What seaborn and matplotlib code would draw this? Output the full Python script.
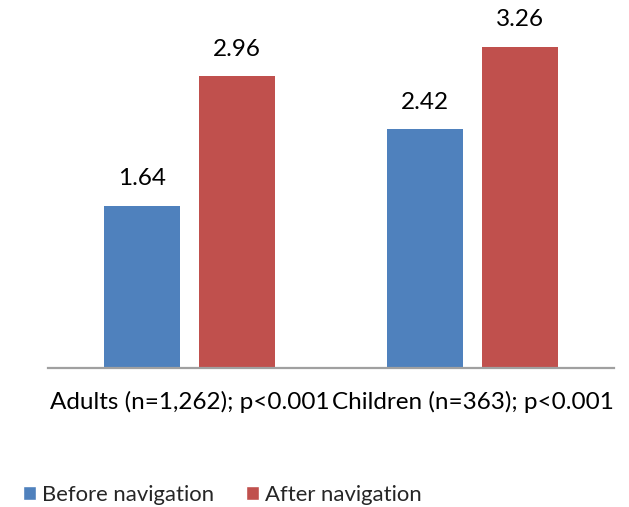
import matplotlib
matplotlib.use("Agg")
import matplotlib.pyplot as plt
import seaborn as sns
import pandas as pd
from matplotlib.patches import Patch

categories = ["Adults (n=1,262); p<0.001", "Children (n=363); p<0.001"]
series = ["Before navigation", "After navigation"]
before = [1.64, 2.42]
after = [2.96, 3.26]
colors = ["#4F81BD", "#C0504D"]

rows = []
for c, b, a in zip(categories, before, after):
    rows.append({"cat": c, "series": series[0], "val": b})
    rows.append({"cat": c, "series": series[1], "val": a})
df = pd.DataFrame(rows)

sns.set_theme(style="white")
plt.rcParams['font.family'] = ['Lato', 'DejaVu Sans']

W, H = 629, 507
fig = plt.figure(figsize=(W / 100, H / 100), dpi=100)
# axes: left 48px, right 614px, baseline at 367.5px, 98.4 px/unit
ymax = 3.6
ax_h = ymax * 98.4
ax = fig.add_axes([48 / W, (H - 367.5) / H, 566 / W, ax_h / H])

sns.barplot(data=df, x="cat", y="val", hue="series", palette=colors,
            width=0.670, gap=0.205, saturation=1, ax=ax, legend=False,
            edgecolor="none")

ax.set_ylim(0, ymax)
ax.set_xlim(-0.5, 1.5)

for cont in ax.containers:
    ax.bar_label(cont, labels=[f"{v:.2f}" for v in cont.datavalues],
                 padding=12, fontsize=17.5, color="black")

for s in ["top", "right", "left"]:
    ax.spines[s].set_visible(False)
ax.spines["bottom"].set_color("#a0a0a0")
ax.spines["bottom"].set_linewidth(1.6)
ax.set_yticks([])
ax.set_xlabel("")
ax.set_ylabel("")
ax.tick_params(axis="x", length=0, pad=17, labelsize=17.5, colors="black")

handles = [Patch(facecolor=colors[0]), Patch(facecolor=colors[1])]
fig.legend(handles, series, loc="center left", bbox_to_anchor=(23 / W, (H - 495) / H),
           ncol=2, frameon=False, fontsize=15.9, handlelength=0.6, handleheight=0.6,
           handletextpad=0.27, columnspacing=1.43, borderaxespad=0, borderpad=0)

fig.savefig("out.png", dpi=100)
